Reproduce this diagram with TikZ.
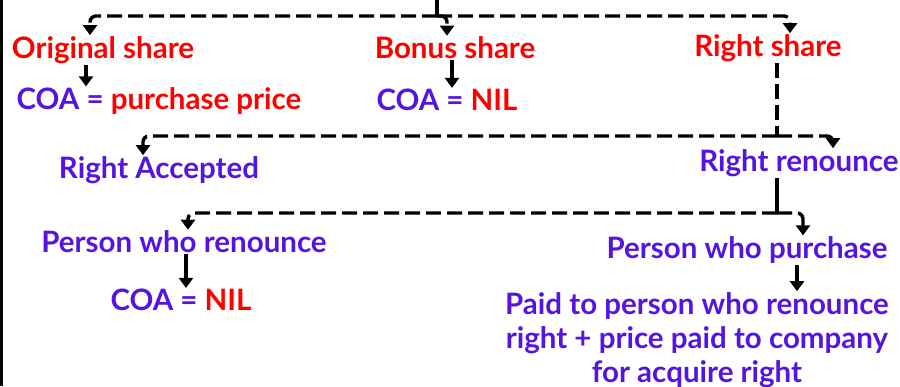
\documentclass[tikz,border=0pt]{standalone}
\usepackage{fontspec}
\setmainfont{Lato}
\usepackage{tikz}
\usetikzlibrary{arrows.meta,positioning}
\definecolor{sharered}{HTML}{FF0000}
\definecolor{rightviolet}{HTML}{5514E1}
\tikzset{
  txt/.style={font=\fontsize{29.5}{34}\selectfont\bfseries, inner sep=1pt, align=center},
  txtr/.style={txt, text=sharered},
  txtv/.style={txt, text=rightviolet},
  dar/.style={-{Triangle[width=14pt,length=10pt]}, line width=3.4pt, dash pattern=on 15pt off 6pt, rounded corners=6pt},
  sar/.style={-{Triangle[width=14pt,length=10pt]}, line width=3.4pt},
  dln/.style={line width=3.4pt, dash pattern=on 15pt off 6pt},
  sln/.style={line width=3.4pt},
}

\begin{document}
\begin{tikzpicture}[x=1pt, y=-1pt]
        \useasboundingbox (0,0) rectangle (900,386);
        \draw[line width=2.5pt] (1.25,0) -- (1.25,386);
        \node[txtr] (orig) at (103,50) {Original share};
        \node[txtr] (bonus) at (455,48) {Bonus share};
        \node[txtr] (rights) at (768,48) {Right share};
        \node[txtr] (coa1) at (159,101) {\textcolor{rightviolet}{COA =} purchase price};
        \node[txtr] (coa2) at (447,100) {\textcolor{rightviolet}{COA =} NIL};
        \node[txtv] (acc) at (159,170) {Right Accepted};
        \node[txtv] (ren) at (799,163) {Right renounce};
        \node[txtv] (pren) at (184,242) {Person who renounce};
        \node[txtv] (ppur) at (747,250) {Person who purchase};
        \node[txtv] (coa3) at (181,300) {COA = \textcolor{sharered}{NIL}};
        \node[txtv] (paid) at (697,340) {Paid to person who renounce\\right + price paid to company\\for acquire right};
        \coordinate (top) at (437,0);
        \coordinate (j1) at (437,16);
        \coordinate (j2) at (777,136);
        \coordinate (j3) at (777,213);
        \draw[sln] (top) -- (j1);
        \draw[dar] (j1) -| ([xshift=-13pt]orig.north);
        \draw[dar] (j1) -| ([xshift=-8pt]bonus.north);
        \draw[dar] (j1) -| ([xshift=22pt]rights.north);
        \draw[sar] ([xshift=-17pt]orig.south) -- ([xshift=-73pt]coa1.north);
        \draw[sar] ([xshift=-3pt]bonus.south) -- ([xshift=5pt]coa2.north);
        \draw[dln] ([xshift=9pt]rights.south) -- (j2);
        \draw[dar] (j2) -| ([xshift=-16pt]acc.north);
        \draw[dar] (j2) -| ([xshift=34pt]ren.north);
        \draw[sln] ([xshift=-22pt]ren.south) -- (j3);
        \draw[dar] (j3) -| ([xshift=4pt]pren.north);
        \draw[dar] (j3) -| ([xshift=56pt]ppur.north);
        \draw[sar] ([xshift=2pt]pren.south) -- ([xshift=5pt]coa3.north);
        \draw[sar] ([xshift=50pt]ppur.south) -- ([xshift=100pt]paid.north);
      \end{tikzpicture}
\end{document}
